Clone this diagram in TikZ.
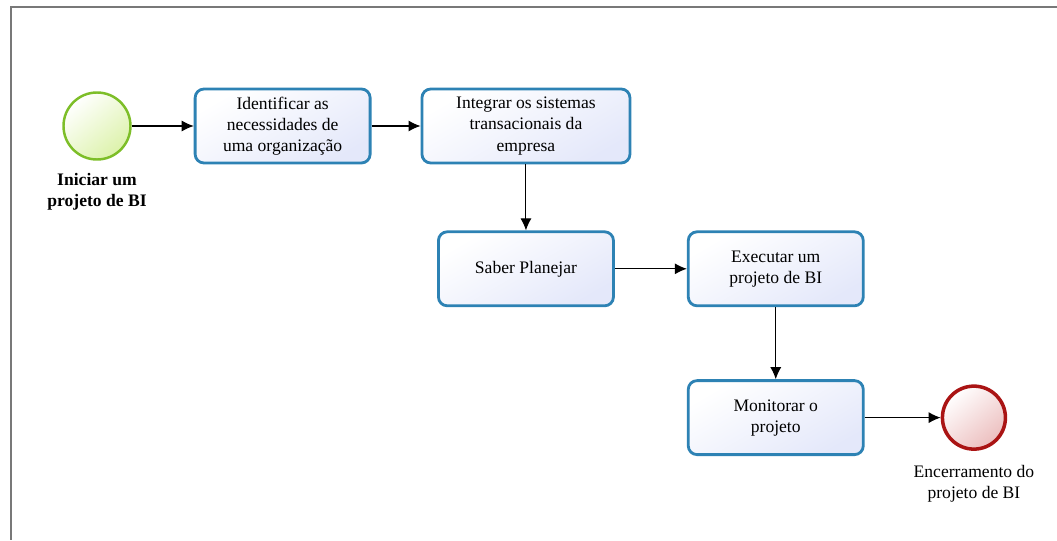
\documentclass[tikz,border=0pt]{standalone}
\usepackage{fontspec}
\setmainfont{Liberation Serif}
\usepackage{xcolor}
\usepackage{tikz}
\usetikzlibrary{positioning,arrows.meta,calc}

\definecolor{taskblue}{RGB}{45,130,180}
\definecolor{taskfill}{RGB}{228,232,250}
\definecolor{startgreen}{RGB}{125,190,40}
\definecolor{startfill}{RGB}{220,242,170}
\definecolor{endred}{RGB}{170,20,20}
\definecolor{endfill}{RGB}{236,190,190}
\definecolor{framegray}{RGB}{120,120,120}

\begin{document}
\begin{tikzpicture}[
    font=\normalsize,
    task/.style={draw=taskblue, line width=1.6pt, rounded corners=5pt, align=center,
        minimum width=3.5cm, minimum height=1.48cm,
        top color=white, bottom color=taskfill, shading angle=30},
    startev/.style={circle, draw=startgreen, line width=1.4pt, minimum size=1.34cm,
        top color=white, bottom color=startfill, shading angle=40},
    endev/.style={circle, draw=endred, line width=2pt, minimum size=1.26cm,
        top color=white, bottom color=endfill, shading angle=40},
    arrow/.style={-{Latex[length=2.4mm,width=2.2mm]}, semithick}
]
\useasboundingbox (0,0) rectangle (21.14,-10.8);
% moldura
\draw[framegray, line width=1.1pt] (21.14,-0.14) -- (0.22,-0.14) -- (0.22,-10.8);

\node[startev] (inicio) at (1.94,-2.52) {};
\node[below=0.12cm of inicio, align=center, font=\bfseries] (inicioLabel) {Iniciar um\\projeto de BI};

\node[task, right=1.24cm of inicio] (identificar) {Identificar as\\necessidades de\\uma organização};
\node[task, right=0.98cm of identificar, minimum width=4.16cm] (integrar) {Integrar os sistemas\\transacionais da\\empresa};
\node[task, below=1.32cm of integrar] (planejar) {Saber Planejar};
\node[task, right=1.44cm of planejar] (executar) {Executar um\\projeto de BI};
\node[task, below=1.44cm of executar] (monitorar) {Monitorar o\\projeto};
\node[endev, right=1.52cm of monitorar] (fim) {};
\node[below=0.16cm of fim, align=center] (fimLabel) {Encerramento do\\projeto de BI};

\draw[arrow] (inicio) -- (identificar);
\draw[arrow] (identificar) -- (integrar);
\draw[arrow] (integrar) -- (planejar);
\draw[arrow] (planejar) -- (executar);
\draw[arrow] (executar) -- (monitorar);
\draw[arrow] (monitorar) -- (fim);
\end{tikzpicture}
\end{document}
